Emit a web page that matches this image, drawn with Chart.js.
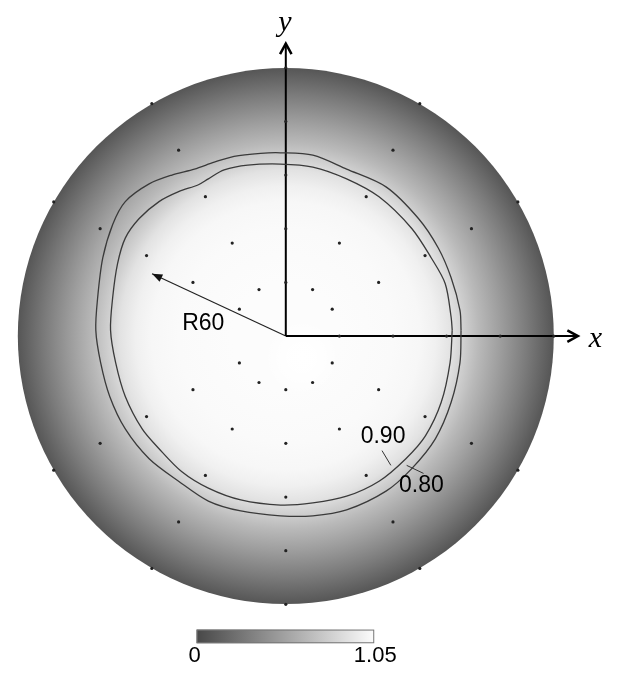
<!DOCTYPE html>
<html>
<head>
<meta charset="utf-8">
<script src="https://cdn.jsdelivr.net/npm/chart.js@4"></script>
<style>
  html, body { margin: 0; padding: 0; background: #fff; }
  canvas { display: block; }
</style>
</head>
<body>
<canvas id="myChart" width="617" height="680"></canvas>
<script>
// measuring grid (mm, degrees) - no point at 180 deg (R60 label side)
const ringRadii = [20, 40, 60, 80, 100];
const ringAngles = [0, 30, 60, 90, 120, 150, 210, 240, 270, 300, 330];

// contour lines (x, y in mm)
const contour090 = [
  [62.1, 2.2], [61.7, 7.0], [59.5, 19.5], [54.3, 29.1], [47.0, 40.1], [34.8, 51.9],
  [22.7, 58.6], [10.1, 63.0], [-2.0, 64.1], [-14.2, 63.7], [-23.0, 61.9], [-28.9, 58.6],
  [-32.6, 56.4], [-40.0, 53.8], [-47.3, 50.1], [-54.7, 43.8], [-59.9, 36.5], [-62.8, 26.9],
  [-64.6, 14.4], [-65.4, 2.2], [-63.5, -9.9], [-59.9, -22.5], [-53.6, -34.6], [-47.3, -42.0],
  [-38.9, -50.5], [-28.9, -56.7], [-16.8, -61.1], [-2.0, -63.0], [10.1, -62.2], [22.7, -59.7],
  [34.8, -54.1], [44.8, -45.7], [52.1, -37.2], [58.0, -24.7], [61.3, -9.9], [62.1, 2.2]
];
const contour080 = [
  [65.4, 2.2], [65.0, 9.6], [61.7, 21.7], [56.9, 32.8], [49.5, 43.8], [37.4, 55.6],
  [22.7, 62.2], [10.1, 67.4], [-2.0, 68.3], [-9.4, 68.1], [-19.3, 67.0], [-26.7, 64.8],
  [-34.1, 62.2], [-42.5, 60.0], [-51.0, 56.7], [-59.9, 50.1], [-64.6, 41.6], [-68.3, 29.1],
  [-70.2, 14.4], [-70.9, 2.2], [-69.1, -9.9], [-65.7, -22.5], [-59.9, -34.6], [-51.0, -45.7],
  [-40.0, -54.1], [-28.9, -61.5], [-16.8, -65.2], [-2.0, -67.0], [10.1, -67.0], [22.7, -64.8],
  [37.4, -57.8], [47.0, -49.4], [55.8, -38.3], [61.7, -24.7], [65.0, -9.9], [65.4, 2.2]
];

// radial profile of the shaded value
const profileRadius = [0, 20, 40, 50, 56, 62, 66, 72, 80, 90, 100];
const profileValue = [1.05, 1.05, 1.04, 1.02, 0.98, 0.90, 0.80, 0.66, 0.50, 0.30, 0.08];

const colorbarTicks = [0, 1.05];
const contourLabels = ['0.90', '0.80'];
const radiusLabel = 'R60';

// value -> gray level, same as the colour bar
function toGray(v) {
  const g = Math.round(72 + Math.max(0, Math.min(v, 1.05)) / 1.05 * 180);
  return 'rgb(' + g + ',' + g + ',' + g + ')';
}

const gridPoints = [];
ringRadii.forEach(r => {
  ringAngles.forEach(a => {
    const t = a * Math.PI / 180;
    gridPoints.push({ x: r * Math.cos(t), y: r * Math.sin(t) });
  });
});

const toXY = arr => arr.map(p => ({ x: p[0], y: p[1] }));

// shaded disk behind everything
const diskPlugin = {
  id: 'disk',
  beforeDatasetsDraw(chart) {
    const ctx = chart.ctx, xs = chart.scales.x, ys = chart.scales.y;
    const cx = xs.getPixelForValue(0), cy = ys.getPixelForValue(0);
    const R = xs.getPixelForValue(100) - cx;
    ctx.save();
    const grad = ctx.createRadialGradient(cx, cy, 0, cx, cy, R);
    profileRadius.forEach((r, i) => grad.addColorStop(r / 100, toGray(profileValue[i])));
    ctx.fillStyle = grad;
    ctx.beginPath();
    ctx.arc(cx, cy, R, 0, Math.PI * 2);
    ctx.fill();
    // small bright spot just below the centre
    const sx = xs.getPixelForValue(6), sy = ys.getPixelForValue(-8);
    const r2 = xs.getPixelForValue(14) - cx;
    const g2 = ctx.createRadialGradient(sx, sy, 0, sx, sy, r2);
    g2.addColorStop(0, 'rgba(255,255,255,1)');
    g2.addColorStop(0.5, 'rgba(255,255,255,0.8)');
    g2.addColorStop(1, 'rgba(255,255,255,0)');
    ctx.fillStyle = g2;
    ctx.beginPath();
    ctx.arc(sx, sy, r2, 0, Math.PI * 2);
    ctx.fill();
    ctx.restore();
  }
};

// arrow heads, labels, colour bar
const annotatePlugin = {
  id: 'annotate',
  afterDatasetsDraw(chart) {
    const ctx = chart.ctx, xs = chart.scales.x, ys = chart.scales.y;
    const px = v => xs.getPixelForValue(v), py = v => ys.getPixelForValue(v);
    ctx.save();

    // axis arrow heads (open chevrons)
    function chevron(x, y, ang) {
      ctx.strokeStyle = '#000';
      ctx.lineWidth = 2.5;
      ctx.lineJoin = 'miter';
      ctx.beginPath();
      ctx.moveTo(x - 12 * Math.cos(ang - 0.5), y - 12 * Math.sin(ang - 0.5));
      ctx.lineTo(x, y);
      ctx.lineTo(x - 12 * Math.cos(ang + 0.5), y - 12 * Math.sin(ang + 0.5));
      ctx.stroke();
    }
    chevron(px(109), py(0), 0);
    chevron(px(0), py(109), -Math.PI / 2);

    // R60 arrow head (filled)
    const tx = px(-49.9), ty = py(23.2);
    const ang = Math.atan2(ty - py(0), tx - px(0));
    ctx.fillStyle = '#111';
    ctx.beginPath();
    ctx.moveTo(tx, ty);
    ctx.lineTo(tx - 11 * Math.cos(ang - 0.38), ty - 11 * Math.sin(ang - 0.38));
    ctx.lineTo(tx - 11 * Math.cos(ang + 0.38), ty - 11 * Math.sin(ang + 0.38));
    ctx.closePath();
    ctx.fill();

    // contour label leaders
    ctx.strokeStyle = '#333';
    ctx.lineWidth = 1;
    ctx.beginPath();
    ctx.moveTo(px(35.9), py(-42.7)); ctx.lineTo(px(39.2), py(-48.2));
    ctx.moveTo(px(45.1), py(-48.2)); ctx.lineTo(px(51.4), py(-51.2));
    ctx.stroke();

    ctx.fillStyle = '#000';
    ctx.textAlign = 'center';
    ctx.textBaseline = 'middle';
    ctx.font = '23px "Liberation Sans", Arial, sans-serif';
    ctx.fillText(contourLabels[0], px(36.3), py(-37.6));
    ctx.fillText(contourLabels[1], px(50.6), py(-55.6));
    ctx.fillText(radiusLabel, px(-30.8), py(4.8));

    ctx.font = 'italic 30px "Liberation Serif", "DejaVu Serif", serif';
    ctx.fillText('x', px(115.5), py(-1.2));
    ctx.fillText('y', px(-0.3), py(116.5));

    // colour bar
    const bx0 = px(-33.3), bx1 = px(33.0), by0 = py(-109.4), by1 = py(-114.5);
    const cg = ctx.createLinearGradient(bx0, 0, bx1, 0);
    cg.addColorStop(0, toGray(colorbarTicks[0]));
    cg.addColorStop(1, toGray(colorbarTicks[1]));
    ctx.fillStyle = cg;
    ctx.fillRect(bx0, by0, bx1 - bx0, by1 - by0);
    ctx.strokeStyle = '#777';
    ctx.lineWidth = 1;
    ctx.strokeRect(bx0 + 0.5, by0 + 0.5, bx1 - bx0 - 1, by1 - by0 - 1);
    ctx.fillStyle = '#000';
    ctx.font = '22px "Liberation Sans", Arial, sans-serif';
    ctx.fillText(String(colorbarTicks[0]), bx0 - 2, py(-119.3));
    ctx.fillText(colorbarTicks[1].toFixed(2), bx1 + 1, py(-119.3));

    ctx.restore();
  }
};

const pxPerMm = 2.715;
const chartConfig = {
  type: 'scatter',
  data: {
    datasets: [
      { label: '0.90', data: toXY(contour090), showLine: true, borderColor: '#3a3a3a', borderWidth: 1.3, pointRadius: 0, tension: 0.3, fill: false },
      { label: '0.80', data: toXY(contour080), showLine: true, borderColor: '#3a3a3a', borderWidth: 1.3, pointRadius: 0, tension: 0.3, fill: false },
      { label: 'points', data: gridPoints, pointRadius: 1.6, pointBackgroundColor: '#222', pointBorderWidth: 0, showLine: false },
      { label: 'x axis', data: [{ x: 0, y: 0 }, { x: 109, y: 0 }], showLine: true, borderColor: '#000', borderWidth: 2, pointRadius: 0 },
      { label: 'y axis', data: [{ x: 0, y: 0 }, { x: 0, y: 109 }], showLine: true, borderColor: '#000', borderWidth: 2, pointRadius: 0 },
      { label: 'R60', data: [{ x: 0, y: 0 }, { x: -49.9, y: 23.2 }], showLine: true, borderColor: '#222', borderWidth: 1.2, pointRadius: 0 }
    ]
  },
  options: {
    responsive: false,
    animation: false,
    layout: { padding: 0 },
    scales: {
      x: { display: false, min: -285.5 / pxPerMm, max: (617 - 285.5) / pxPerMm },
      y: { display: false, min: -(680 - 336) / pxPerMm, max: 336 / pxPerMm }
    },
    plugins: {
      legend: { display: false },
      tooltip: { enabled: false }
    }
  },
  plugins: [diskPlugin, annotatePlugin]
};

const myChart = new Chart(document.getElementById('myChart'), chartConfig);
</script>
</body>
</html>
